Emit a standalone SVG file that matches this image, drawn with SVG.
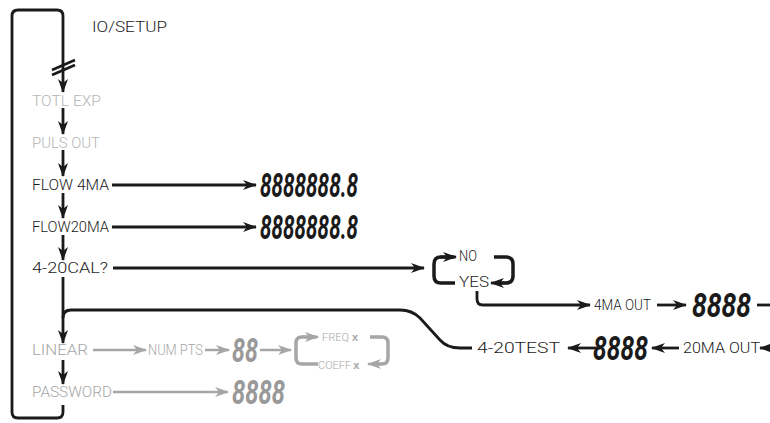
<svg xmlns="http://www.w3.org/2000/svg" width="770" height="423" viewBox="0 0 770 423">
<defs>
<marker id="ab" markerUnits="userSpaceOnUse" markerWidth="14" markerHeight="10" refX="13" refY="5" orient="auto"><path d="M0,0 L14,5 L0,10 L4,5 Z" fill="#1a1a1a"/></marker>
<marker id="ag" markerUnits="userSpaceOnUse" markerWidth="14" markerHeight="10" refX="13" refY="5" orient="auto"><path d="M0,0 L14,5 L0,10 L4,5 Z" fill="#a6a6a6"/></marker>
<style>
.lb{font-family:Roboto,"Open Sans","Liberation Sans",sans-serif;font-weight:300;font-size:14px;fill:#1a1a1a;dominant-baseline:central}
.lg{fill:#b5b5b5}
.lm{fill:#a6a6a6}
.sm{font-size:11px}
.dg{font-family:Roboto,"Liberation Sans",sans-serif;font-weight:bold;font-style:italic;font-size:33px;fill:#1a1a1a;dominant-baseline:central}
.dgg{fill:#999}
.k{fill:none;stroke:#1a1a1a;stroke-width:2.8}
.kb{fill:none;stroke:#1a1a1a;stroke-width:3.5}
.g{fill:none;stroke:#a6a6a6;stroke-width:2.5}
.gb{fill:none;stroke:#a6a6a6;stroke-width:3.5}
.x{font-family:"Liberation Sans",sans-serif;font-size:11px;font-weight:bold;fill:#a6a6a6}
</style>
</defs>
<g id="connectors">
<path class="k" d="M63,405 V412 Q63,418 57,418 H18 Q12,418 12,412 V16 Q12,10 18,10 H57 Q63,10 63,16 V92" marker-end="url(#ab)"/>
<path class="k" d="M52,70 L75,60 M52,75 L75,65"/>
<path class="k" d="M63,108 V134" marker-end="url(#ab)"/>
<path class="k" d="M63,150 V176" marker-end="url(#ab)"/>
<path class="k" d="M63,193 V218" marker-end="url(#ab)"/>
<path class="k" d="M63,235 V260" marker-end="url(#ab)"/>
<path class="k" d="M63,277 V343" marker-end="url(#ab)"/>
<path class="k" d="M63,360 V384" marker-end="url(#ab)"/>
<path class="k" d="M112,185 H256" marker-end="url(#ab)"/>
<path class="k" d="M112,227 H256" marker-end="url(#ab)"/>
<path class="k" d="M113,268 H424" marker-end="url(#ab)"/>
<path class="kb" d="M454,257 H441 Q434,257 434,264 V276 Q434,283 441,283 H455"/>
<path class="k" d="M440,257 H456" marker-end="url(#ab)"/>
<path class="kb" d="M494,257 H506 Q513,257 513,264 V276 Q513,283 506,283 H500"/>
<path class="k" d="M505,283 H491" marker-end="url(#ab)"/>
<path class="k" d="M477,291 V299 Q477,305 483,305 H590" marker-end="url(#ab)"/>
<path class="k" d="M657,305 H686" marker-end="url(#ab)"/>
<path class="k" d="M757,305 H770"/>
<path class="k" d="M63,318 Q63,310 71,310 H400 Q412,310 420,318 L440,340 Q447,348 460,348 H472"/>
<path class="k" d="M600,348 H568" marker-end="url(#ab)"/>
<path class="k" d="M679,348 H652" marker-end="url(#ab)"/>
<path class="k" d="M770,348 H760" marker-end="url(#ab)"/>
<path class="g" d="M93,350 H146" marker-end="url(#ag)"/>
<path class="g" d="M205,350 H229" marker-end="url(#ag)"/>
<path class="g" d="M260,350 H291" marker-end="url(#ag)"/>
<path class="gb" d="M316,337 H302 Q296,337 296,343 V358 Q296,364 302,364 H318"/>
<path class="g" d="M302,337 H318" marker-end="url(#ag)"/>
<path class="gb" d="M370,337 H382 Q388,337 388,343 V358 Q388,364 382,364 H377"/>
<path class="g" d="M382,364 H368" marker-end="url(#ag)"/>
<path class="g" d="M113,392 H228" marker-end="url(#ag)"/>
</g>
<g id="n-iosetup"><text class="lb" x="92" y="27" textLength="75" lengthAdjust="spacingAndGlyphs">IO/SETUP</text></g>
<g id="n-totlexp"><text class="lb lg" x="32" y="101" textLength="69" lengthAdjust="spacingAndGlyphs">TOTL EXP</text></g>
<g id="n-pulsout"><text class="lb lg" x="32" y="143" textLength="68" lengthAdjust="spacingAndGlyphs">PULS OUT</text></g>
<g id="n-flow4ma"><text class="lb" x="32" y="185" textLength="77" lengthAdjust="spacingAndGlyphs">FLOW 4MA</text></g>
<g id="n-flow4ma-val"><text class="dg" x="260" y="185" textLength="98" lengthAdjust="spacingAndGlyphs">8888888.8</text></g>
<g id="n-flow20ma"><text class="lb" x="32" y="227" textLength="77" lengthAdjust="spacingAndGlyphs">FLOW20MA</text></g>
<g id="n-flow20ma-val"><text class="dg" x="260" y="227" textLength="98" lengthAdjust="spacingAndGlyphs">8888888.8</text></g>
<g id="n-cal"><text class="lb" x="32" y="268" textLength="76" lengthAdjust="spacingAndGlyphs">4-20CAL?</text></g>
<g id="n-no"><text class="lb" x="459" y="256" textLength="18" lengthAdjust="spacingAndGlyphs">NO</text></g>
<g id="n-yes"><text class="lb" x="459" y="282" textLength="30" lengthAdjust="spacingAndGlyphs">YES</text></g>
<g id="n-4maout"><text class="lb" x="594" y="305" textLength="57" lengthAdjust="spacingAndGlyphs">4MA OUT</text></g>
<g id="n-4maout-val"><text class="dg" x="692" y="305" textLength="59" lengthAdjust="spacingAndGlyphs">8888</text></g>
<g id="n-20maout"><text class="lb" x="683" y="348" textLength="77" lengthAdjust="spacingAndGlyphs">20MA OUT</text></g>
<g id="n-20maout-val"><text class="dg" x="593" y="348" textLength="55" lengthAdjust="spacingAndGlyphs">8888</text></g>
<g id="n-test"><text class="lb" x="477" y="348" textLength="83" lengthAdjust="spacingAndGlyphs">4-20TEST</text></g>
<g id="n-linear"><text class="lb lm" x="32" y="350" textLength="56" lengthAdjust="spacingAndGlyphs">LINEAR</text></g>
<g id="n-numpts"><text class="lb lm" x="148" y="350" textLength="55" lengthAdjust="spacingAndGlyphs">NUM PTS</text></g>
<g id="n-numpts-val"><text class="dg dgg" x="232" y="350" textLength="26" lengthAdjust="spacingAndGlyphs">88</text></g>
<g id="n-freq"><text class="lb lm sm" x="322" y="337">FREQ<tspan class="x" dx="3">x</tspan></text></g>
<g id="n-coeff"><text class="lb lm sm" x="318" y="365">COEFF<tspan class="x" dx="2">x</tspan></text></g>
<g id="n-password"><text class="lb lm" x="32" y="392" textLength="80" lengthAdjust="spacingAndGlyphs">PASSWORD</text></g>
<g id="n-password-val"><text class="dg dgg" x="232" y="392" textLength="53" lengthAdjust="spacingAndGlyphs">8888</text></g>
</svg>
